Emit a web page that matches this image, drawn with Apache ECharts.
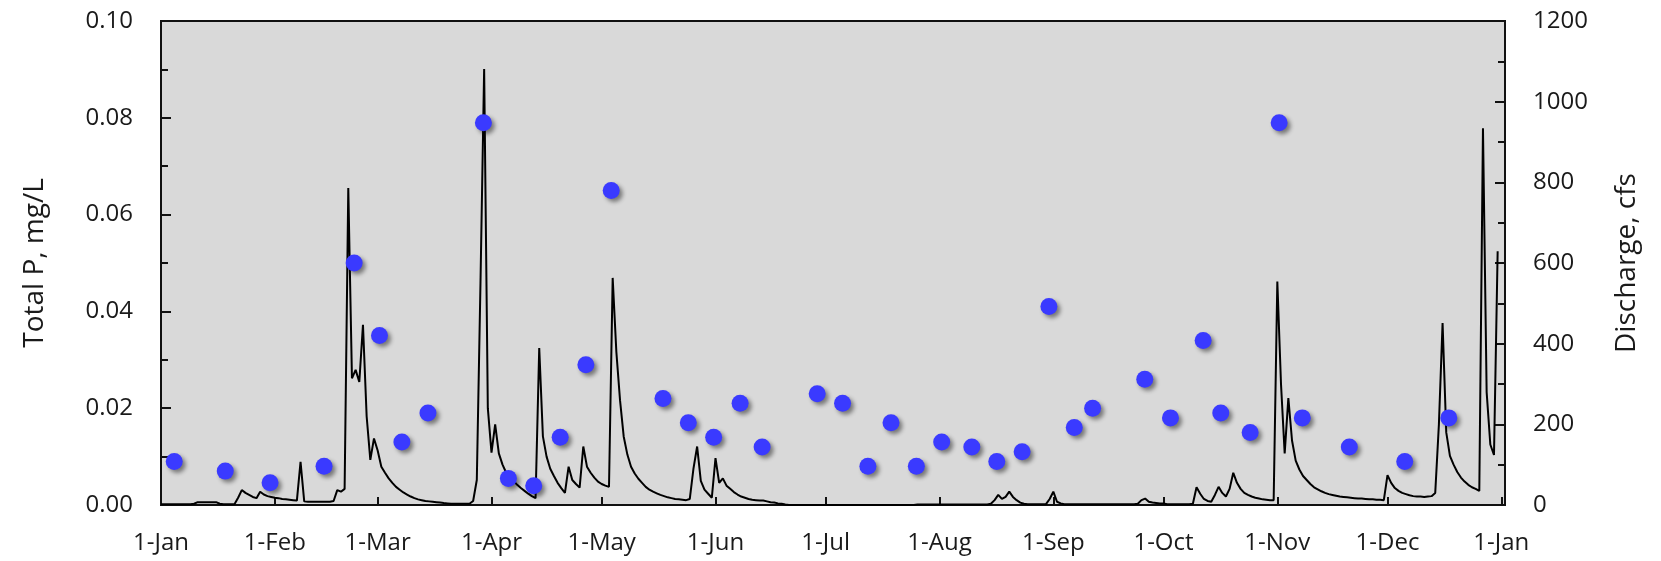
<!DOCTYPE html>
<html>
<head>
<meta charset="utf-8">
<script src="https://cdn.jsdelivr.net/npm/echarts@6/dist/echarts.min.js"></script>
<style>
html,body{margin:0;padding:0;background:#fff;}
#chart{width:1661px;height:561px;}
</style>
</head>
<body>
<div id="chart"></div>
<script>
// Month tick positions (day offset from 1-Jan) and their labels
const monthTickDays = [0, 31, 59, 90, 120, 151, 181, 212, 243, 273, 304, 334, 365];
const monthTickLabels = ['1-Jan','1-Feb','1-Mar','1-Apr','1-May','1-Jun','1-Jul','1-Aug','1-Sep','1-Oct','1-Nov','1-Dec','1-Jan'];

// Total P samples: day offset from 1-Jan and concentration (mg/L)
const sampleDays = [3.6, 17.5, 29.7, 44.4, 52.6, 59.5, 65.6, 72.7, 87.8, 94.6, 101.5, 108.7, 115.7, 122.6,
  136.7, 143.6, 150.5, 157.7, 163.7, 178.7, 185.6, 192.5, 198.8, 205.7, 212.6, 220.8, 227.6, 234.5,
  241.8, 248.7, 253.7, 267.9, 274.9, 283.8, 288.6, 296.6, 304.5, 310.8, 323.6, 338.7, 350.7];
const totalP = [0.009, 0.007, 0.0046, 0.008, 0.050, 0.035, 0.013, 0.019, 0.079, 0.0055, 0.004, 0.014, 0.029, 0.065,
  0.022, 0.017, 0.014, 0.021, 0.012, 0.023, 0.021, 0.008, 0.017, 0.008, 0.013, 0.012, 0.009, 0.011,
  0.041, 0.016, 0.020, 0.026, 0.018, 0.034, 0.019, 0.015, 0.079, 0.018, 0.012, 0.009, 0.018];

// Daily discharge (cfs), one value per day starting 1-Jan
const dailyDischarge = [
  2,2,2,2,2,2,2,2,2,3, 7,7,7,7,7,7,3,2,2,2,
  2,18,37,30,25,20,17,33,26,22, 20,18,17,15,14,13,12,11,107,9,
  8,8,8,8,8,8,8,10,37,33, 40,786,314,335,305,447,220,112,165,135,
  95,80,66,55,45,38,31,26,21,17, 14,12,10,9,8,7,6,5,4,3,
  3,3,3,3,3,10,62,550,1081,240, 130,200,128,100,80,70,60,50,42,35,
  28,22,17,389,170,120,90,72,55,42, 30,95,62,52,43,145,95,80,68,58,
  52,48,45,563,380,260,170,125,95,78, 65,55,45,38,33,29,25,22,19,17,
  15,14,13,12,15,90,145,60,38,28, 18,116,55,66,48,40,32,26,21,18,
  15,13,12,11,11,9,7,6,4,3, 1,0,0,0,0,0,0,0,0,0,
  0,0,0,0,0,0,0,0,0,0, 0,0,0,0,0,0,0,0,0,0,
  0,0,0,0,0,0,1,1,1,1, 1,1,1,1,1,1,1,1,1,1,
  1,1,1,1,1,1,3,12,25,15, 20,33,20,12,6,3,2,2,2,2,
  2,2,15,33,8,4,2,2,2,2, 2,2,2,2,2,2,2,2,2,2,
  2,2,2,2,2,2,3,12,16,8, 6,5,4,4,2,2,2,2,2,2,
  2,3,44,28,15,10,8,25,45,30, 21,40,80,55,40,30,25,21,18,16,
  14,13,12,12,554,300,128,265,160,110, 88,72,62,52,44,39,34,30,27,25,
  23,21,20,19,18,17,16,16,15,14, 14,13,13,12,74,55,42,35,30,27,
  24,22,21,21,20,21,22,30,200,451, 180,122,100,82,68,58,50,44,40,35,
  934,280,150,124,629
];

const leftTicks = [0, 0.02, 0.04, 0.06, 0.08, 0.10];
const rightTicks = [0, 200, 400, 600, 800, 1000, 1200];

const scatterData = sampleDays.map((d, i) => [d, totalP[i]]);
const lineData = dailyDischarge.map((q, i) => [i, q]);

const FONT = 'Open Sans';
const TXT = '#1a1a1a';

const chart = echarts.init(document.getElementById('chart'), null, {renderer: 'canvas'});
chart.setOption({
  animation: false,
  backgroundColor: '#ffffff',
  textStyle: {fontFamily: FONT, color: TXT},
  grid: {
    left: 161, right: 156, top: 21, bottom: 56,
    show: true, backgroundColor: '#d9d9d9', borderColor: '#111', borderWidth: 2,
    containLabel: false, outerBoundsMode: 'none'
  },
  xAxis: {
    type: 'value', min: 0, max: 366,
    splitLine: {show: false},
    axisLine: {show: true, onZero: false, lineStyle: {color: '#111', width: 2}},
    axisTick: {show: true, inside: true, length: 8, lineStyle: {color: '#111', width: 2},
      customValues: monthTickDays},
    axisLabel: {show: true, margin: 26, fontSize: 24, color: TXT, fontFamily: FONT,
      customValues: monthTickDays,
      formatter: function (v) { const i = monthTickDays.indexOf(Math.round(v)); return i >= 0 ? monthTickLabels[i] : ''; }
    }
  },
  yAxis: [
    {
      type: 'value', min: leftTicks[0], max: leftTicks[leftTicks.length - 1], interval: 0.02, position: 'left',
      name: 'Total P, mg/L', nameLocation: 'middle', nameRotate: 90, nameGap: 112,
      nameMoveOverlap: false,
      nameTextStyle: {fontSize: 28, color: TXT, fontFamily: FONT},
      splitLine: {show: false},
      axisLine: {show: true, onZero: false, lineStyle: {color: '#111', width: 2}},
      axisTick: {show: true, inside: true, length: 10, lineStyle: {color: '#111', width: 2}},
      minorTick: {show: true, splitNumber: 2, length: 7, lineStyle: {color: '#111', width: 2}},
      axisLabel: {margin: 28, fontSize: 24, color: TXT, fontFamily: FONT,
        formatter: function (v) { return v.toFixed(2); }}
    },
    {
      type: 'value', min: rightTicks[0], max: rightTicks[rightTicks.length - 1], interval: 200, position: 'right',
      name: 'Discharge, cfs', nameLocation: 'middle', nameRotate: 90, nameGap: 108,
      nameMoveOverlap: false,
      nameTextStyle: {fontSize: 28, color: TXT, fontFamily: FONT},
      splitLine: {show: false},
      axisLine: {show: true, onZero: false, lineStyle: {color: '#111', width: 2}},
      axisTick: {show: true, inside: true, length: 10, lineStyle: {color: '#111', width: 2}},
      minorTick: {show: true, splitNumber: 2, length: 7, lineStyle: {color: '#111', width: 2}},
      axisLabel: {margin: 28, fontSize: 24, color: TXT, fontFamily: FONT,
        formatter: function (v) { return String(Math.round(v)); }}
    }
  ],
  series: [
    {
      name: 'Discharge', type: 'line', yAxisIndex: 1, data: lineData,
      showSymbol: false, symbol: 'none', z: 2,
      lineStyle: {color: '#000', width: 2}
    },
    {
      name: 'Total P', type: 'scatter', yAxisIndex: 0, data: scatterData,
      symbol: 'circle', symbolSize: 17, z: 3,
      itemStyle: {color: '#3a3aff', opacity: 1, shadowBlur: 4, shadowColor: 'rgba(0,0,0,0.45)',
        shadowOffsetX: 3, shadowOffsetY: 3}
    }
  ]
});
</script>
</body>
</html>
